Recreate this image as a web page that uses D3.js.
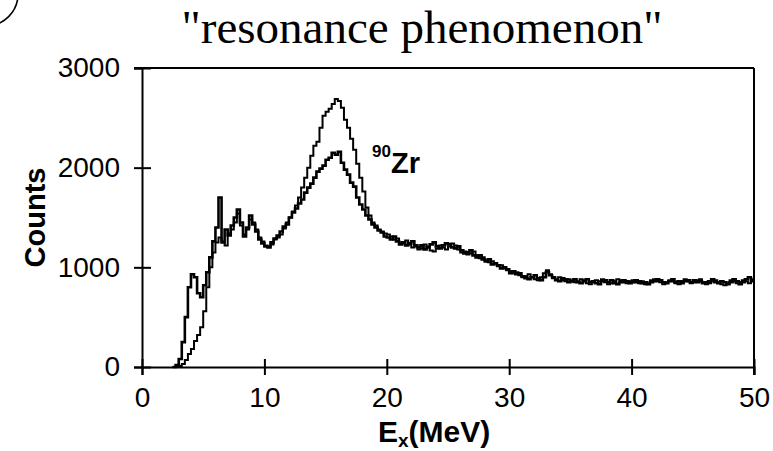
<!DOCTYPE html>
<html>
  <head>
    <meta charset="utf-8" />
    <title>Resonance phenomenon</title>
    <script src="https://d3js.org/d3.v7.min.js"></script>
    <style>
        body {
            margin: 0;
            background: #fff;
        }
        text {
            fill: #000;
        }
    </style>
  </head>
  <body>
    <svg id="chart"></svg>

    <script>
        // spectra, 0.25 MeV bins starting at 2.5 MeV
        var energyStart = 2.5;
        var binWidth = 0.25;

        // thin spectrum, tall giant resonance peak
        var countsA = [
            0, 0, 10, 30, 70, 130, 180, 260, 320, 400,
            560, 800, 1000, 1150, 1250, 1300, 1260, 1220, 1340, 1380,
            1450, 1540, 1420, 1330, 1380, 1480, 1450, 1380, 1300, 1260,
            1220, 1210, 1230, 1280, 1300, 1330, 1390, 1450, 1500, 1560,
            1620, 1700, 1800, 1900, 2000, 2120, 2220, 2260, 2400, 2520,
            2560, 2590, 2640, 2690, 2670, 2600, 2480, 2400, 2290, 2180,
            2040, 1900, 1760, 1600, 1520, 1450, 1420, 1380, 1360, 1340,
            1330, 1310, 1280, 1290, 1250, 1240, 1270, 1230, 1200, 1210, 1180, 1190, 1230, 1210, 1170, 1160, 1190, 1220, 1200, 1180,
            1210, 1240, 1220, 1180, 1150, 1160, 1130, 1140, 1160, 1120, 1090, 1100, 1070, 1050, 1060, 1040, 1010, 1020, 990, 970,
            960, 940, 950, 920, 900, 910, 930, 900, 880, 870, 900, 940, 970, 930, 890, 880, 900, 870, 860, 880,
            870, 850, 860, 880, 870, 840, 830, 850, 870, 860, 880, 850, 830, 840, 860, 880, 870, 850, 840, 860,
            870, 850, 840, 860, 830, 840, 870, 880, 860, 850, 830, 850, 870, 860, 840, 830, 860, 880, 860, 840,
            850, 870, 880, 850, 830, 840, 860, 870, 850, 830, 820, 840, 870, 860, 840, 850, 870, 860, 840, 880
        ];

        // thick spectrum, low-energy bump and lower peak
        var countsB = [
            0, 20, 80, 250, 500, 800, 930, 900, 740, 700,
            820, 950, 1100, 1260, 1400, 1700, 1250, 1380, 1320, 1420,
            1500, 1580, 1450, 1310, 1400, 1520, 1430, 1360, 1280, 1240,
            1210, 1200, 1250, 1290, 1320, 1360, 1410, 1430, 1500, 1550,
            1590, 1640, 1680, 1750, 1800, 1840, 1900, 1960, 1990, 2020,
            2080, 2100, 2150, 2130, 2160, 2050, 1980, 1930, 1850, 1810,
            1700, 1630, 1580, 1520, 1480, 1430, 1400, 1370, 1350, 1310,
            1300, 1280, 1310, 1260, 1230, 1250, 1220, 1240, 1260, 1220, 1200, 1220, 1180, 1200, 1230, 1250, 1210, 1190, 1220, 1240,
            1230, 1200, 1190, 1210, 1170, 1140, 1150, 1170, 1120, 1100, 1120, 1080, 1060, 1080, 1030, 1040, 1020, 990, 1000, 980,
            940, 960, 930, 940, 910, 890, 880, 900, 920, 890, 870, 900, 950, 920, 900, 870, 860, 890, 880, 850,
            860, 880, 850, 840, 860, 880, 850, 860, 840, 830, 860, 870, 850, 870, 840, 830, 850, 870, 860, 840,
            850, 870, 860, 840, 850, 830, 850, 860, 880, 870, 850, 840, 860, 880, 850, 860, 840, 860, 870, 850,
            870, 850, 860, 840, 850, 860, 880, 850, 840, 860, 850, 830, 850, 880, 860, 830, 850, 880, 900, 860
        ];

        var xTicks = [0, 10, 20, 30, 40, 50];
        var yTicks = [0, 1000, 2000, 3000];

        var width = 773;
        var height = 451;
        var margin = {top: 68, right: 19, bottom: 84, left: 142};

        var svg = d3.select("#chart").attr("width", width).attr("height", height);

        var x = d3.scaleLinear()
            .domain([0, 50])
            .range([margin.left, width - margin.right]);

        var y = d3.scaleLinear()
            .domain([0, 3000])
            .range([height - margin.bottom, margin.top]);

        var sans = "'Liberation Sans', Arial, Helvetica, sans-serif";

        // corner arc
        svg.append("path")
            .attr("d", "M18,-6 A32,32 0 0 1 -14,26")
            .attr("fill", "none")
            .attr("stroke", "#000")
            .attr("stroke-width", 1.6);

        // title
        svg.append("text")
            .attr("x", 422)
            .attr("y", 43)
            .attr("text-anchor", "middle")
            .style("font-family", "'Liberation Serif', 'Times New Roman', serif")
            .style("font-size", "47px")
            .text("\"resonance phenomenon\"");

        // frame (top and right)
        svg.append("line")
            .attr("x1", x(0) - 8).attr("x2", x(50))
            .attr("y1", y(3000)).attr("y2", y(3000))
            .attr("stroke", "#000").attr("stroke-width", 2);
        svg.append("line")
            .attr("x1", x(50)).attr("x2", x(50))
            .attr("y1", y(3000)).attr("y2", y(0) + 8)
            .attr("stroke", "#000").attr("stroke-width", 2);

        // axes
        var xAxis = svg.append("g")
            .attr("transform", "translate(0," + y(0) + ")")
            .call(d3.axisBottom(x).tickValues(xTicks).tickFormat(d3.format("d"))
                .tickSizeOuter(0).tickSize(8).tickPadding(12));
        xAxis.selectAll(".tick line").attr("y1", -8).attr("y2", 8).attr("stroke-width", 2);
        xAxis.select(".domain").attr("stroke-width", 2);
        xAxis.selectAll(".tick text")
            .style("font-family", sans)
            .style("font-size", "28px");

        var yAxis = svg.append("g")
            .attr("transform", "translate(" + x(0) + ",0)")
            .call(d3.axisLeft(y).tickValues(yTicks).tickFormat(d3.format("d"))
                .tickSizeOuter(0).tickSize(8).tickPadding(14));
        yAxis.selectAll(".tick line").attr("x1", -8).attr("x2", 9).attr("stroke-width", 2);
        yAxis.select(".domain").attr("stroke-width", 2);
        yAxis.selectAll(".tick text")
            .style("font-family", sans)
            .style("font-size", "28px");

        // axis titles
        svg.append("text")
            .attr("transform", "translate(45," + y(1500) + ") rotate(-90)")
            .attr("text-anchor", "middle")
            .style("font-family", sans)
            .style("font-weight", "bold")
            .style("font-size", "29px")
            .text("Counts");

        var xLabel = svg.append("text")
            .attr("x", 378)
            .attr("y", 442)
            .style("font-family", sans)
            .style("font-weight", "bold")
            .style("font-size", "30px");
        xLabel.append("tspan").text("E");
        xLabel.append("tspan").attr("dy", 5).style("font-size", "19px").text("x");
        xLabel.append("tspan").attr("dy", -5).text("(MeV)");

        // nucleus label
        var zr = svg.append("text")
            .attr("x", 372)
            .attr("y", 173)
            .style("font-family", sans)
            .style("font-weight", "bold")
            .style("font-size", "29px");
        zr.append("tspan").attr("dy", -16).style("font-size", "17px").text("90");
        zr.append("tspan").attr("dy", 16).text("Zr");

        // spectra
        function toPoints(counts) {
            var pts = counts.map(function(c, i) {
                return {e: energyStart + i * binWidth, c: c};
            });
            pts.push({e: 50, c: counts[counts.length - 1]});
            return pts;
        }

        var line = d3.line()
            .curve(d3.curveStepAfter)
            .x(function(d) { return x(d.e); })
            .y(function(d) { return y(d.c); });

        svg.append("path")
            .datum(toPoints(countsA))
            .attr("d", line)
            .attr("fill", "none")
            .attr("stroke", "#000")
            .attr("stroke-width", 2);

        svg.append("path")
            .datum(toPoints(countsB))
            .attr("d", line)
            .attr("fill", "none")
            .attr("stroke", "#000")
            .attr("stroke-width", 2.6);
    </script>
  </body>
</html>
